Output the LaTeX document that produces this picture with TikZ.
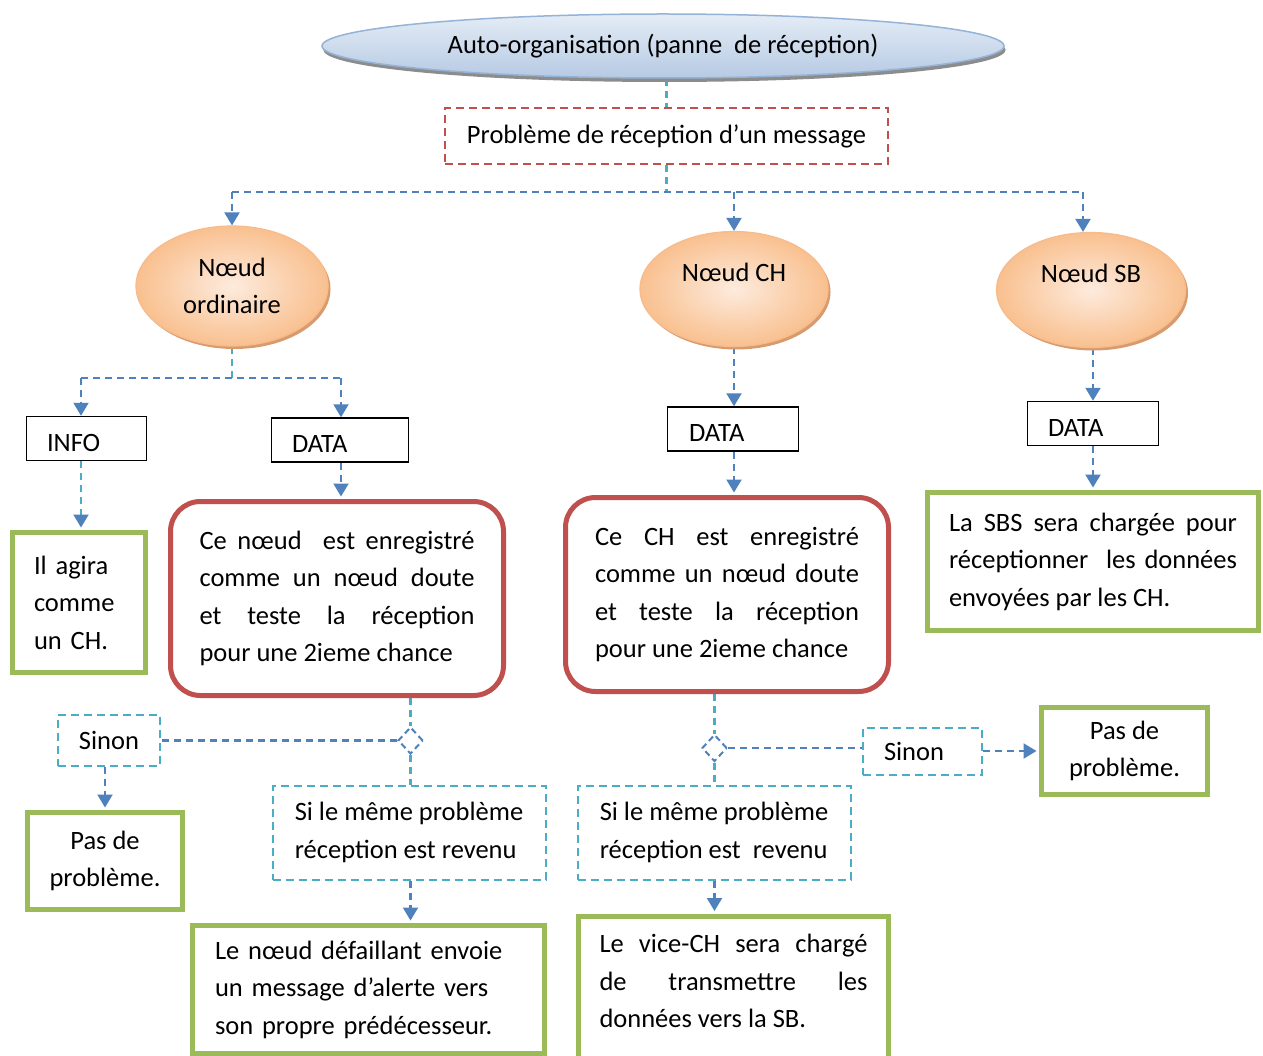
\documentclass[tikz,border=0pt]{standalone}
\usepackage{fontspec}
\setmainfont{Carlito}
\usetikzlibrary{shapes.geometric,arrows.meta,shadows,backgrounds}

\definecolor{flowblue}{HTML}{4F81BD}
\definecolor{flowcyan}{HTML}{4BACC6}
\definecolor{alertred}{HTML}{C0504D}
\definecolor{okgreen}{HTML}{9BBB59}
\definecolor{peachin}{HTML}{FDEBDD}
\definecolor{peachout}{HTML}{F9C08F}
\definecolor{peachedge}{HTML}{F7BB8C}
\definecolor{peachshadow}{HTML}{D89B6E}
\definecolor{skytop}{HTML}{E4ECF6}
\definecolor{skybot}{HTML}{B6CAE3}
\definecolor{skyedge}{HTML}{95B3D7}

\begin{document}
\begin{tikzpicture}[x=1pt,y=-1pt,
  every node/.style={font=\fontsize{26.5}{37.5}\selectfont, text=black},
  >={Triangle[width=15pt,length=13pt,color=flowblue]},
  flow/.style={line width=2.2pt, dash pattern=on 7pt off 5pt},
  bl/.style={flow, draw=flowblue},
  cy/.style={flow, draw=flowcyan},
  titleshape/.style={ellipse, draw=skyedge, line width=1.5pt,
    top color=skytop, bottom color=skybot, inner sep=0,
    drop shadow={shadow xshift=1.5pt, shadow yshift=-4pt, fill=black!45, opacity=1}},
  peach/.style={ellipse, draw=peachedge, line width=1.2pt,
    inner color=peachin, outer color=peachout, inner sep=0, align=center,
    drop shadow={shadow xshift=2.5pt, shadow yshift=-3pt, fill=peachshadow, opacity=1}},
  datbox/.style={draw=black, line width=1.5pt, inner sep=0, align=left,
    text height=34.5pt, text depth=9.5pt},
  redbox/.style={draw=alertred, line width=5pt, rounded corners=30pt,
    align=justify, inner sep=0},
  greenbox/.style={draw=okgreen, line width=5pt, inner sep=0},
  cybox/.style={draw=flowcyan, line width=2pt, dash pattern=on 8pt off 5pt, inner sep=0},
  junction/.style={diamond, draw=flowblue, line width=2pt, dash pattern=on 6pt off 4pt,
    inner sep=0, minimum width=25pt, minimum height=27pt},
]
\useasboundingbox (0,0) rectangle (1263,1056);
\clip (0,0) rectangle (1263,1056);

% title and triggering problem
\node[titleshape, minimum width=682pt, minimum height=64pt] (ttl) at (663,46)
  {Auto-organisation (panne\ \ de réception)};
\node[draw=alertred, line width=2pt, dash pattern=on 8pt off 5pt, inner sep=0,
  minimum width=443pt, minimum height=56pt] (prob) at (666.5,136)
  {Problème de réception d’un message};

% the three kinds of node
\node[peach, minimum width=192pt, minimum height=120pt] (ord) at (232,286) {Nœud\\ordinaire};
\node[peach, minimum width=188pt, minimum height=115pt, text height=18pt, text depth=33pt] (ch) at (734,289) {Nœud CH};
\node[peach, minimum width=189pt, minimum height=115pt, text height=18pt, text depth=33pt] (sb) at (1091,290) {Nœud SB};

% message types
\node[datbox, text width=79pt, minimum width=120pt] (info) at (86.5,438.5) {INFO};
\node[datbox, text width=96pt, minimum width=137pt] (datal) at (340,440) {DATA};
\node[datbox, text width=88pt, minimum width=131pt] (datam) at (733,429) {DATA};
\node[datbox, text width=90pt, minimum width=131pt] (datar) at (1093,423.5) {DATA};

% reactions
\node[greenbox, text width=90pt, align=left, minimum width=133pt, minimum height=140pt] (agira) at (79,602.5)
  {Il agira\\comme\\un CH.};
\node[redbox, text width=275pt, minimum width=333pt, minimum height=194pt] (redl) at (337,598.5)
  {Ce nœud\ \ est enregistré\linebreak comme un nœud doute\linebreak et teste la réception\linebreak pour une 2ieme chance};
\node[redbox, text width=264pt, minimum width=323pt, minimum height=194pt] (redm) at (727,594.5)
  {Ce CH est enregistré\linebreak comme un nœud doute\linebreak et teste la réception\linebreak pour une 2ieme chance};
\node[greenbox, text width=288pt, align=justify, minimum width=331pt, minimum height=138pt] (sbs) at (1093,561.5)
  {La SBS sera chargée pour\linebreak réceptionner\ \ les données\linebreak envoyées par les CH.};

% second chance, ordinary node
\node[cybox, minimum width=102pt, minimum height=51pt] (sinonl) at (109,740) {Sinon};
\node[junction] (dl) at (410.5,740.5) {};
\node[greenbox, align=center, minimum width=155pt, minimum height=97pt] (pasl) at (105,861) {Pas de\\problème.};
\node[cybox, align=left, minimum width=273pt, minimum height=94pt] (sil) at (409,832.5)
  {Si le même problème\\réception est revenu};
\node[greenbox, text width=307pt, align=left, minimum width=352pt, minimum height=128pt] (defa) at (368.5,989.5)
  {Le nœud défaillant envoie\\un message d’alerte vers\\son propre prédécesseur.};

% second chance, cluster head
\node[junction] (dm) at (714.5,748) {};
\node[cybox, text width=77pt, align=left, minimum width=119pt, minimum height=47pt] (sinonr) at (922.5,751.5) {Sinon};
\node[greenbox, align=center, minimum width=166pt, minimum height=87pt] (pasr) at (1124.5,751) {Pas de\\problème.};
\node[cybox, align=left, minimum width=273pt, minimum height=94pt] (sim) at (714,832.5)
  {Si le même problème\\réception est\ \ revenu};
\node[greenbox, text width=268pt, align=justify, minimum width=310pt, text height=36.5pt, text depth=120pt,
  anchor=north] (vice) at (733.5,913.5)
  {Le vice-CH sera chargé\linebreak de transmettre les\linebreak données vers la SB.};

\begin{scope}[on background layer]
  \fill[white] (0,0) rectangle (1263,1056);

  % top part
  \draw[cy] (prob.north |- ttl.south) -- (prob.north);
  \coordinate (bus) at (666.5,192);
  \coordinate (busl) at (232,192);
  \coordinate (busr) at (1083,192);
  \draw[cy] (prob.south) -- (bus);
  \draw[bl] (busl) -- (busr);
  \draw[bl,->] (busl) -- (ord.north);
  \draw[bl,->] (bus -| ch.north) -- (ch.north);
  \draw[bl,->] (busr) -- (busr |- sb.north);

  % ordinary node branch
  \coordinate (obus) at (232,378);
  \coordinate (obl) at (81,378);
  \coordinate (obr) at (341,378);
  \draw[cy] (ord.south) -- (obus);
  \draw[bl] (obl) -- (obr);
  \draw[bl,->] (obl) -- (obl |- info.north);
  \draw[bl,->] (obr) -- (obr |- datal.north);
  \draw[cy,->,shorten >=2.5pt] (obl |- info.south) -- (obl |- agira.north);
  \draw[bl,->,shorten >=2.5pt] (obr |- datal.south) -- (obr |- redl.north);

  % cluster head and sink branches
  \draw[bl,->] (ch.south) -- (ch.south |- datam.north);
  \draw[bl,->,shorten >=2.5pt] (datam.south -| ch.south) -- (ch.south |- redm.north);
  \draw[bl,->] (datar.north |- sb.south) -- (datar.north);
  \draw[bl,->,shorten >=2.5pt] (datar.south) -- (datar.south |- sbs.north);

  % second chance, ordinary node
  \draw[cy] (dl.north |- redl.south) -- (dl.north);
  \draw[cy] (dl.south) -- (dl.south |- sil.north);
  \draw[bl] (dl.west) -- (dl.west -| sinonl.east);
  \draw[bl,->,shorten >=2.5pt] (sinonl.south -| pasl.north) -- (pasl.north);
  \draw[bl,->,shorten >=2.5pt] (sil.south -| dl.south) -- (dl.south |- defa.north);

  % second chance, cluster head
  \draw[cy] (dm.north |- redm.south) -- (dm.north);
  \draw[cy] (dm.south) -- (dm.south |- sim.north);
  \draw[bl] (dm.east) -- (dm.east -| sinonr.west);
  \draw[bl,->,shorten >=2.5pt] (sinonr.east |- pasr.west) -- (pasr.west);
  \draw[bl,->,shorten >=2.5pt] (dm.south |- sim.south) -- (dm.south |- vice.north);
\end{scope}
\end{tikzpicture}
\end{document}
